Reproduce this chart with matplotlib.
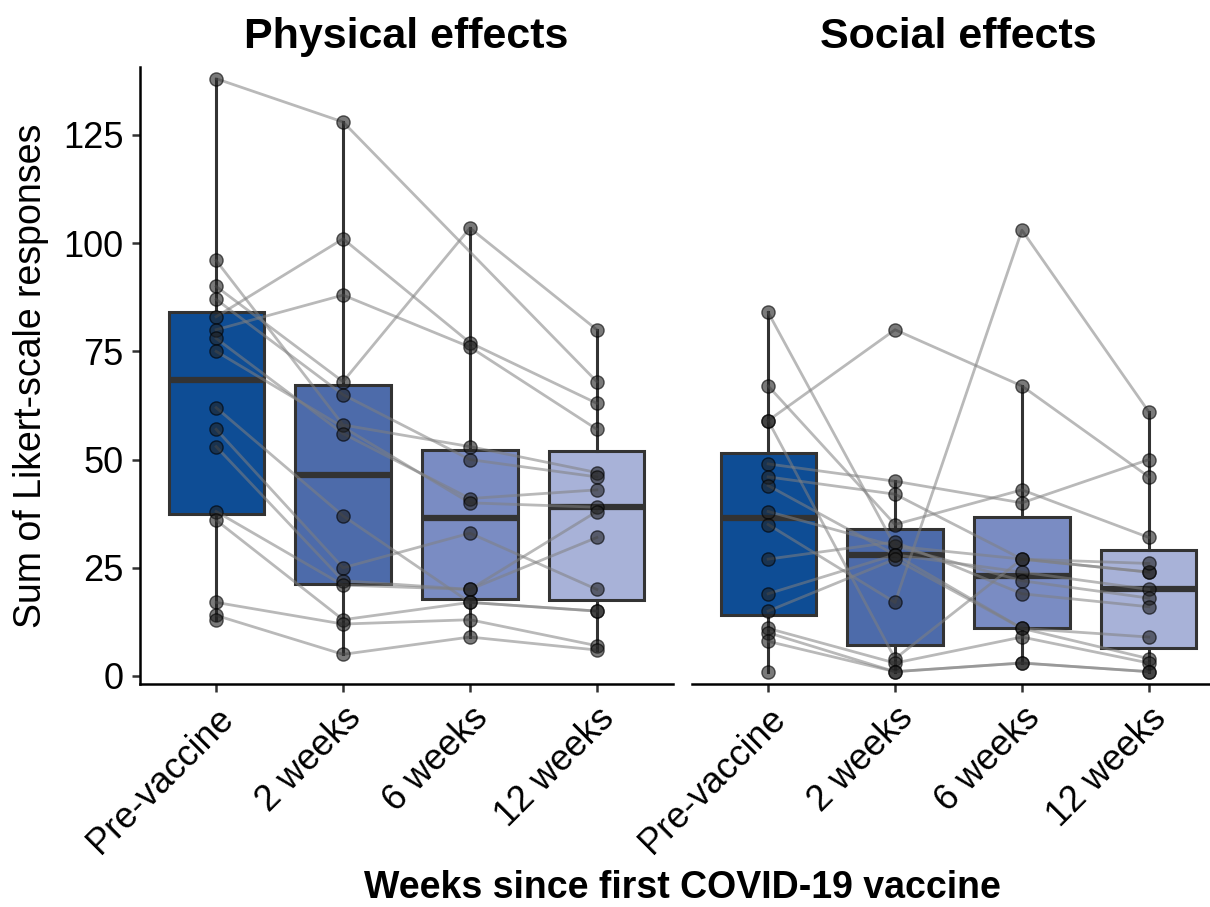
import numpy as np
import matplotlib
matplotlib.use('Agg')
import matplotlib.pyplot as plt

plt.rcParams['font.family'] = ['Liberation Sans', 'DejaVu Sans']

nan = np.nan

# Data (one entry per participant, NaN = missing)
weeks = ['Pre-vaccine', '2 weeks', '6 weeks', '12 weeks']
panels = ['Physical effects', 'Social effects']

phys_pre = [138, 83, 80, 90, 96, 87, 78, 75, 62, 57, 53, 38, 36, 17, 14, 13]
phys_2w = [128, 101, 88, 68, 58, 65, 56, nan, 37, 25, 22, 21, 13, 12, 5, nan]
phys_6w = [nan, 77, 76, 103.5, 53, 50, 41, 40, 17, 33, 20, 20, 17, 13, 9, nan]
phys_12w = [68, 63, 57, 80, 47, 46, 43, 39, 15, 20, 32, 38, 15, 7, 6, nan]

soc_pre = [84, 59, 67, 59, 49, 46, 44, 38, 35, 27, 19, 15, 11, 10, 8, 1]
soc_2w = [30, 80, 35, 4, 45, 42, 28, nan, 17, 31, 28, 27, 3, 1, 1, nan]
soc_6w = [nan, 67, 43, 27, 40, 27, 24, 22, 103, 19, 11, 11, 9, 3, 3, nan]
soc_12w = [24, 46, 32, 24, 50, 26, 20, 18, 61, 16, 9, 4, 3, 1, 1, nan]

box_colors = ['#0E4D95', '#4D6BAA', '#7A8CC3', '#A8B2D8']
edge = '#333333'

W, H = 1210, 907
fig = plt.figure(figsize=(W / 100, H / 100), dpi=100)
ax1 = fig.add_axes([140 / W, 223 / H, 533 / W, 617 / H])
ax2 = fig.add_axes([692 / W, 223 / H, 533 / W, 617 / H], sharey=ax1)

datasets = [
    np.array([phys_pre, phys_2w, phys_6w, phys_12w], dtype=float),
    np.array([soc_pre, soc_2w, soc_6w, soc_12w], dtype=float),
]
x = np.arange(1, 5)

for ax, data, title in zip([ax1, ax2], datasets, panels):
    groups = [d[~np.isnan(d)] for d in data]
    bp = ax.boxplot(groups, positions=x, widths=0.75, patch_artist=True,
                    showfliers=False, showcaps=False, whis=1.5,
                    boxprops=dict(edgecolor=edge, linewidth=2.2),
                    whiskerprops=dict(color=edge, linewidth=2.2),
                    medianprops=dict(color=edge, linewidth=4.5),
                    zorder=1)
    for patch, c in zip(bp['boxes'], box_colors):
        patch.set_facecolor(c)

    # participant trajectories
    for s in range(data.shape[1]):
        vals = data[:, s]
        ok = ~np.isnan(vals)
        ax.plot(x[ok], vals[ok], color='grey', alpha=0.55, lw=2.0, zorder=3)
        ax.plot(x[ok], vals[ok], 'o', markerfacecolor='#222222',
                markeredgecolor='black', alpha=0.6,
                markersize=9.5, markeredgewidth=1.0, zorder=4)

    ax.set_xlim(0.4, 4.6)
    ax.set_xticks(x)
    ax.set_xticklabels(weeks, rotation=45, ha='right', va='top',
                       rotation_mode='anchor', fontsize=26)
    ax.set_title(title, fontsize=31, fontweight='bold', pad=14)
    for sp in ['top', 'right']:
        ax.spines[sp].set_visible(False)
    ax.spines['bottom'].set_linewidth(1.8)
    ax.spines['left'].set_linewidth(1.8)
    ax.tick_params(axis='both', length=6, width=1.8, color=edge, pad=6,
                   labelsize=26)

ax1.set_ylim(-1.85, 140.7)
ax1.set_yticks([0, 25, 50, 75, 100, 125])
ax1.set_ylabel('Sum of Likert-scale responses', fontsize=27, labelpad=10)
ax2.spines['left'].set_visible(False)
ax2.tick_params(axis='y', left=False, labelleft=False)

fig.text(682 / W, 1 - 888 / H, 'Weeks since first COVID-19 vaccine',
         ha='center', va='center', fontsize=27, fontweight='bold')

fig.savefig('out.png', dpi=100)
